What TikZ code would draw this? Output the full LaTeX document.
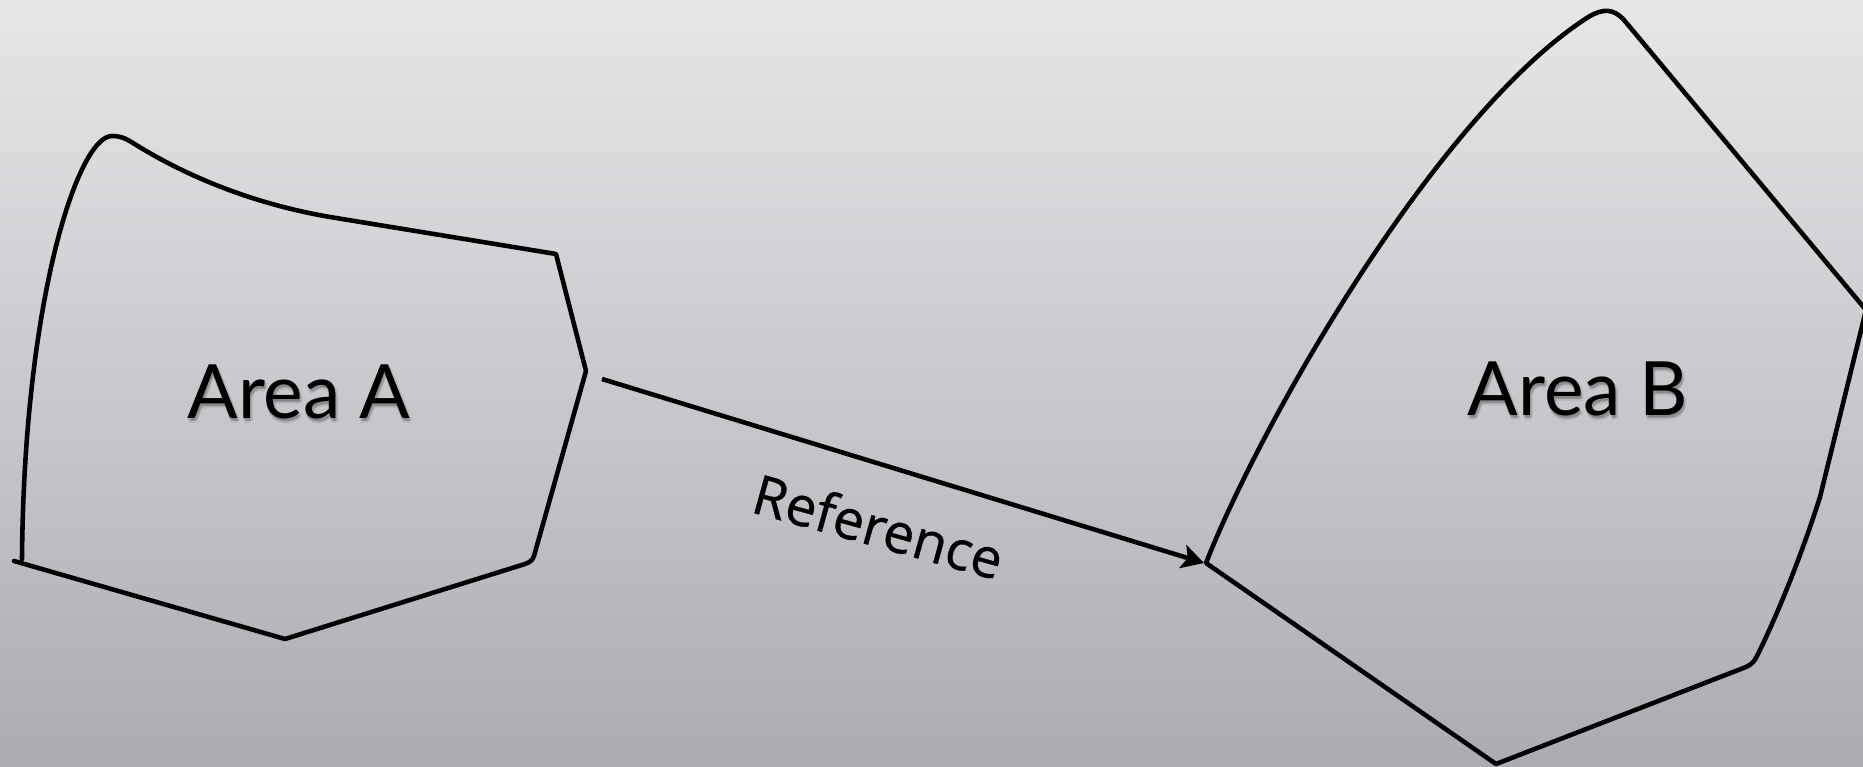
\documentclass[tikz,border=0pt]{standalone}
\usepackage{fontspec}
\newfontfamily\labelfont{Lato}
\newfontfamily\notefont[FakeBold=0.6]{Open Sans}
\usetikzlibrary{arrows.meta}
\definecolor{bgtop}{HTML}{E7E7E9}
\definecolor{bgbottom}{HTML}{ABABB2}
\begin{document}
\begin{tikzpicture}[x=0.01cm, y=-0.01cm,
  outline/.style={line width=1.3pt, line join=round, line cap=round},
  conn/.style={line width=1.3pt, -{Stealth[length=0.22cm, width=0.24cm, inset=0.05cm]}},
  arealabel/.style={font=\labelfont\fontsize{21.3pt}{24pt}\selectfont, anchor=base, inner sep=0pt},
  labelshadow/.style={arealabel, text=black, opacity=0.07},
  notelabel/.style={font=\notefont\fontsize{15.6pt}{18pt}\selectfont, anchor=base, inner sep=0pt, rotate=-15.5}]

% background
\shade[top color=bgtop, bottom color=bgbottom] (0,0) rectangle (1863,767);
\useasboundingbox (0,0) rectangle (1863,767);

% region A outline
\draw[outline] (22,559)
  .. controls (24,300) and (78,136) .. (112,136)
  .. controls (120,136) and (125,138) .. (133,143)
  .. controls (192,180) and (260,205) .. (330,217)
  -- (556,254) -- (586,371) -- (534,556)
  .. controls (532,561) and (530,562) .. (525,564)
  -- (285,639) -- (14,561);

% region B outline
\draw[outline] (1206,563)
  .. controls (1262,420) and (1440,110) .. (1590,16)
  .. controls (1603,9) and (1613,8) .. (1624,20)
  -- (1866,310) -- (1820,497)
  .. controls (1800,560) and (1775,620) .. (1757,656)
  .. controls (1754,662) and (1752,664) .. (1746,667)
  -- (1496,764) -- cycle;

% labels with soft drop shadow
\foreach \dx/\dy in {0/2, 1/3, 2/4, 1/5, 3/3} {
  \node[labelshadow] at (299+\dx,418+\dy) {Area A};
  \node[labelshadow] at (1578+\dx,415+\dy) {Area B};
}
\node[arealabel] (areaA) at (299,418) {Area A};
\node[arealabel] (areaB) at (1578,415) {Area B};

% reference connector
\coordinate (refstart) at (602,379);
\coordinate (Bcorner) at (1204,563);
\draw[conn] (refstart) -- (Bcorner);
\node[notelabel] (reflabel) at (873,546) {Reference};
\end{tikzpicture}
\end{document}
